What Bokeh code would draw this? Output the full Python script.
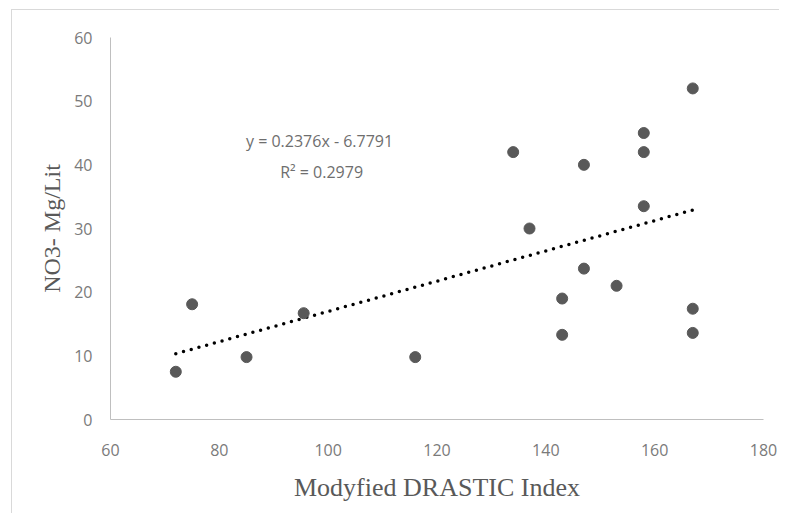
from bokeh.plotting import figure
from bokeh.models import ColumnDataSource, Range1d, Label, FixedTicker
from bokeh.embed import file_html
from bokeh.resources import INLINE

# Data
drastic_index = [72, 75, 85, 95.5, 116, 134, 137, 143, 143, 147, 147, 153, 158, 158, 158, 167, 167, 167]
no3_mg_lit = [7.5, 18.1, 9.8, 16.7, 9.8, 42.0, 30.0, 19.0, 13.3, 40.0, 23.7, 21.0, 42.0, 45.0, 33.5, 52.0, 17.4, 13.6]

slope = 0.2376
intercept = -6.7791
r_squared = 0.2979

x_ticks = [60, 80, 100, 120, 140, 160, 180]
y_ticks = [0, 10, 20, 30, 40, 50, 60]

p = figure(width=768, height=504, output_backend="svg", toolbar_location=None,
           x_range=Range1d(60, 180), y_range=Range1d(0, 60),
           min_border_left=98, min_border_right=17, min_border_top=27, min_border_bottom=95)
p.margin = (9, 0, 0, 11)
p.styles = {"border-top": "1px solid #d9d9d9", "border-left": "1px solid #d9d9d9"}
p.outline_line_color = None
p.grid.grid_line_color = None
p.background_fill_color = "white"
p.border_fill_color = "white"

# trendline from the fitted equation
x0, x1 = min(drastic_index), max(drastic_index)
p.line([x0, x1], [slope * x0 + intercept, slope * x1 + intercept],
       line_color="black", line_width=3.5, line_dash="0 8", line_cap="round")

src = ColumnDataSource(dict(x=drastic_index, y=no3_mg_lit))
p.scatter("x", "y", source=src, size=11, fill_color="#595959", line_color="#595959")

for ax in (p.xaxis, p.yaxis):
    ax.axis_line_color = "#bfbfbf"
    ax.axis_line_width = 1
    ax.major_tick_line_color = None
    ax.minor_tick_line_color = None
    ax.major_label_text_font = "Open Sans"
    ax.major_label_text_font_size = "16px"
    ax.major_label_text_color = "#7a7a7a"
    ax.axis_label_text_font = "Liberation Serif"
    ax.axis_label_text_color = "#595959"
    ax.axis_label_text_font_style = "normal"

p.xaxis.ticker = FixedTicker(ticks=x_ticks)
p.yaxis.ticker = FixedTicker(ticks=y_ticks)
p.xaxis.major_label_standoff = 18
p.yaxis.major_label_standoff = 12
p.xaxis.axis_label = "Modyfied DRASTIC Index"
p.yaxis.axis_label = "NO3- Mg/Lit"
p.xaxis.axis_label_text_font_size = "26px"
p.yaxis.axis_label_text_font_size = "24px"
p.xaxis.axis_label_standoff = 14
p.yaxis.axis_label_standoff = 6

eq = "y = %.4fx  - %.4f" % (slope, -intercept)
r2 = "R\u00b2 = %.4f" % r_squared
p.add_layout(Label(x=98.8, y=43.7, text=eq, text_align="center", text_baseline="middle",
                   text_font="Open Sans", text_font_size="16px", text_color="#6e6e6e"))
p.add_layout(Label(x=98.8, y=38.8, text=r2, text_align="center", text_baseline="middle",
                   text_font="Open Sans", text_font_size="16px", text_color="#6e6e6e"))

open("out.html", "w").write(file_html(p, INLINE))
